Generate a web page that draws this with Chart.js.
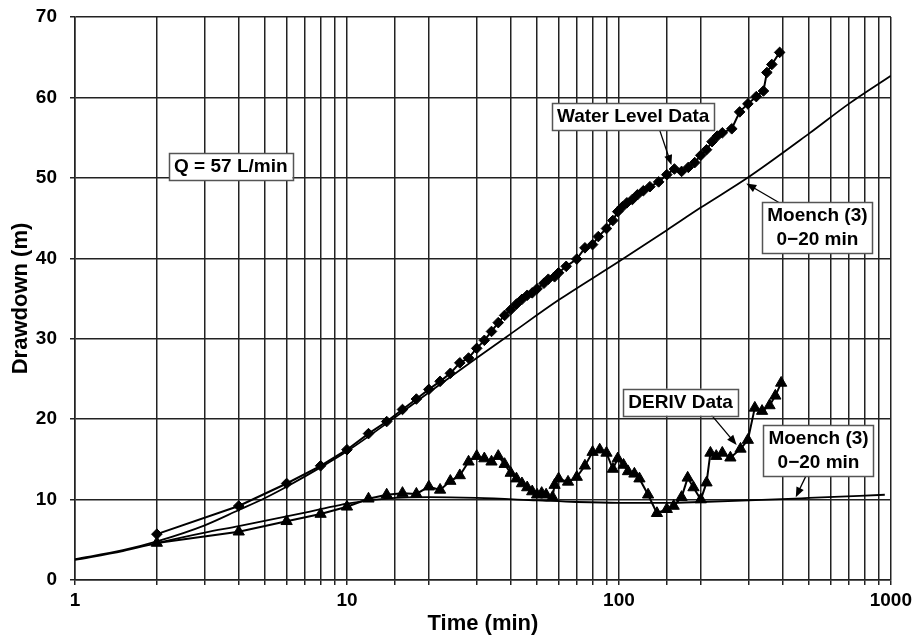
<!DOCTYPE html>
<html>
<head>
<meta charset="utf-8">
<script src="https://cdn.jsdelivr.net/npm/chart.js@4.4.1/dist/chart.umd.min.js"></script>
<style>
  html, body { margin: 0; padding: 0; background: #fff; }
  #wrap { width: 916px; height: 639px; }
</style>
</head>
<body>
<div id="wrap"><canvas id="drawdownChart" width="916" height="639"></canvas></div>
<script>
// Water level data (diamonds)
const wlTime = [2, 4, 6, 8, 10, 12, 14, 16, 18, 20, 22, 24, 26, 28, 30, 32, 34, 36, 38, 40, 42, 44, 46, 48, 50, 53, 55, 58, 60, 64, 70, 75, 80, 84, 90, 95, 99, 103, 107, 112, 117, 123, 130, 140, 150, 160, 170, 180, 190, 200, 210, 220, 230, 240, 260, 278, 298, 320, 340, 350, 365, 390];
const wlDrawdown = [5.7, 9.2, 12.0, 14.2, 16.2, 18.2, 19.7, 21.2, 22.5, 23.7, 24.7, 25.7, 27.0, 27.6, 28.8, 29.8, 30.9, 32.0, 32.9, 33.6, 34.3, 34.9, 35.4, 35.7, 36.2, 36.9, 37.4, 37.7, 38.2, 39.0, 39.9, 41.3, 41.7, 42.7, 43.7, 44.7, 45.8, 46.4, 46.9, 47.3, 47.9, 48.4, 48.9, 49.5, 50.4, 51.1, 50.8, 51.3, 51.9, 52.8, 53.5, 54.5, 55.2, 55.6, 56.1, 58.2, 59.2, 60.1, 60.8, 63.1, 64.1, 65.6];

// DERIV data (triangles)
const derivTime = [2, 4, 6, 8, 10, 12, 14, 16, 18, 20, 22, 24, 26, 28, 30, 32, 34, 36, 38, 40, 42, 44, 46, 48, 50, 52, 54, 57, 58, 60, 65, 70, 75, 80, 85, 90, 95, 99, 104, 108, 114, 119, 128, 138, 150, 159, 170, 179, 188, 200, 210, 217, 228, 240, 257, 280, 298, 316, 336, 358, 376, 395];
const derivValue = [4.6, 6.0, 7.3, 8.2, 9.1, 10.1, 10.6, 10.8, 10.7, 11.6, 11.2, 12.3, 13.0, 14.7, 15.4, 15.1, 14.7, 15.4, 14.4, 13.3, 12.6, 12.0, 11.5, 11.0, 10.6, 10.8, 10.6, 10.3, 11.8, 12.6, 12.2, 12.8, 14.2, 15.9, 16.2, 15.8, 13.8, 15.1, 14.3, 13.5, 13.2, 12.6, 10.6, 8.3, 8.8, 9.2, 10.3, 12.7, 11.5, 10.0, 12.1, 15.8, 15.4, 15.8, 15.2, 16.3, 17.4, 21.4, 21.0, 21.7, 22.9, 24.5];

// Moench (3) model curves, fitted on 0-20 min
const moenchTime = [1, 1.5, 2, 3, 4, 5, 6, 8, 10, 15, 20, 30, 40, 60, 100, 150, 200, 300, 500, 700, 1000];
const moenchDrawdown = [2.6, 3.7, 4.8, 6.8, 8.7, 10.2, 11.6, 14.0, 16.0, 20.2, 23.3, 27.6, 30.6, 34.8, 39.6, 43.5, 46.3, 50.1, 55.5, 59.2, 62.7];
const moenchDerivTime = [1, 1.5, 2, 3, 4, 6, 8, 10, 15, 20, 30, 50, 70, 100, 150, 200, 300, 500, 950];
const moenchDeriv = [2.5, 3.6, 4.6, 5.9, 6.7, 7.9, 8.8, 9.5, 10.2, 10.3, 10.2, 9.9, 9.7, 9.6, 9.6, 9.7, 9.9, 10.2, 10.6];

// Axis ranges
const xMin = 1, xMax = 1000;
const yMin = 0, yMax = 70, yStep = 10;

// Text boxes with arrows (positions in data units: time, drawdown)
const notes = [
  { lines: ['Water Level Data'], at: [112.8, 57.6], from: [141, 56.0], to: [156, 51.6] },
  { lines: ['Q = 57 L/min'], at: [3.74, 51.4] },
  { lines: ['Moench (3)', '0\u221220 min'], at: [537, 43.8], from: [389, 46.9], to: [294, 49.3] },
  { lines: ['DERIV Data'], at: [168.6, 22.1], from: [219, 20.5], to: [271, 16.8] },
  { lines: ['Moench (3)', '0\u221220 min'], at: [542, 16.1], from: [490, 13.1], to: [447, 10.3] }
];

const FONT = '"Liberation Sans", Arial, sans-serif';
const INK = '#000';
const GRID = '#222';

function toPoints(xs, ys) {
  return xs.map((x, i) => ({ x: x, y: ys[i] }));
}

// Draws the boxed labels and their arrows
const notesPlugin = {
  id: 'notes',
  afterDatasetsDraw(chart) {
    const ctx = chart.ctx;
    const xs = chart.scales.x, ys = chart.scales.y;
    ctx.save();
    ctx.font = 'bold 19px ' + FONT;
    ctx.textAlign = 'center';
    ctx.textBaseline = 'middle';
    notes.forEach(n => {
      if (n.from) {
        const x1 = xs.getPixelForValue(n.from[0]), y1 = ys.getPixelForValue(n.from[1]);
        const x2 = xs.getPixelForValue(n.to[0]), y2 = ys.getPixelForValue(n.to[1]);
        const ang = Math.atan2(y2 - y1, x2 - x1);
        ctx.strokeStyle = INK;
        ctx.lineWidth = 1.3;
        ctx.beginPath();
        ctx.moveTo(x1, y1);
        ctx.lineTo(x2 - 6 * Math.cos(ang), y2 - 6 * Math.sin(ang));
        ctx.stroke();
        ctx.fillStyle = INK;
        ctx.beginPath();
        ctx.moveTo(x2, y2);
        ctx.lineTo(x2 - 10 * Math.cos(ang) + 4 * Math.sin(ang), y2 - 10 * Math.sin(ang) - 4 * Math.cos(ang));
        ctx.lineTo(x2 - 10 * Math.cos(ang) - 4 * Math.sin(ang), y2 - 10 * Math.sin(ang) + 4 * Math.cos(ang));
        ctx.closePath();
        ctx.fill();
      }
      const cx = xs.getPixelForValue(n.at[0]), cy = ys.getPixelForValue(n.at[1]);
      const lh = 24;
      const w = Math.max(...n.lines.map(l => ctx.measureText(l).width)) + 10;
      const h = n.lines.length * lh + 3;
      ctx.fillStyle = '#fff';
      ctx.fillRect(cx - w / 2, cy - h / 2, w, h);
      ctx.strokeStyle = '#555';
      ctx.lineWidth = 1.5;
      ctx.strokeRect(Math.round(cx - w / 2) + 0.5, Math.round(cy - h / 2) + 0.5, Math.round(w), Math.round(h));
      ctx.fillStyle = INK;
      n.lines.forEach((l, i) => {
        ctx.fillText(l, cx, cy - h / 2 + 2 + lh * (i + 0.5));
      });
    });
    ctx.restore();
  }
};

const ctx = document.getElementById('drawdownChart').getContext('2d');
const chart = new Chart(ctx, {
  type: 'scatter',
  data: {
    datasets: [
      {
        label: 'Moench (3) drawdown',
        data: toPoints(moenchTime, moenchDrawdown),
        showLine: true,
        borderColor: INK,
        borderWidth: 1.8,
        pointRadius: 0,
        cubicInterpolationMode: 'monotone'
      },
      {
        label: 'Moench (3) derivative',
        data: toPoints(moenchDerivTime, moenchDeriv),
        showLine: true,
        borderColor: INK,
        borderWidth: 1.8,
        pointRadius: 0,
        cubicInterpolationMode: 'monotone'
      },
      {
        label: 'Water Level Data',
        data: toPoints(wlTime, wlDrawdown),
        showLine: true,
        borderColor: INK,
        borderWidth: 2,
        pointStyle: 'rectRot',
        pointRadius: 5.3,
        backgroundColor: INK,
        pointBorderColor: INK,
        pointBorderWidth: 1
      },
      {
        label: 'DERIV Data',
        data: toPoints(derivTime, derivValue),
        showLine: true,
        borderColor: INK,
        borderWidth: 2,
        pointStyle: 'triangle',
        pointRadius: 6.5,
        backgroundColor: INK,
        pointBorderColor: INK,
        pointBorderWidth: 1
      }
    ]
  },
  options: {
    responsive: false,
    animation: false,
    layout: { padding: { left: 0, right: 25, top: 17, bottom: 0 } },
    plugins: {
      legend: { display: false },
      tooltip: { enabled: false }
    },
    scales: {
      x: {
        type: 'logarithmic',
        min: xMin,
        max: xMax,
        afterFit: (axis) => { axis.height = 59; },
        grid: { color: GRID, lineWidth: 1.5, tickLength: 5 },
        border: { display: true, color: GRID, width: 1.5 },
        ticks: {
          autoSkip: false,
          maxRotation: 0,
          color: INK,
          padding: 4,
          font: { family: FONT, size: 19, weight: 'bold' },
          callback: (value) => {
            const e = Math.log10(value);
            return Math.abs(e - Math.round(e)) < 1e-9 ? String(value) : '';
          }
        },
        title: {
          display: true,
          text: 'Time (min)',
          color: INK,
          padding: { top: 0, bottom: 2 },
          font: { family: FONT, size: 22, weight: 'bold' }
        }
      },
      y: {
        min: yMin,
        max: yMax,
        afterFit: (axis) => {
          axis.width = 75;
          axis.paddingTop = 0;
          axis.paddingBottom = 0;
        },
        grid: { color: GRID, lineWidth: 1.5, tickLength: 5 },
        border: { display: true, color: GRID, width: 1.5 },
        ticks: {
          stepSize: yStep,
          color: INK,
          padding: 13,
          font: { family: FONT, size: 19, weight: 'bold' }
        },
        title: {
          display: true,
          text: 'Drawdown (m)',
          color: INK,
          padding: { top: 8, bottom: 0 },
          font: { family: FONT, size: 22, weight: 'bold' }
        }
      }
    }
  },
  plugins: [notesPlugin]
});
</script>
</body>
</html>
